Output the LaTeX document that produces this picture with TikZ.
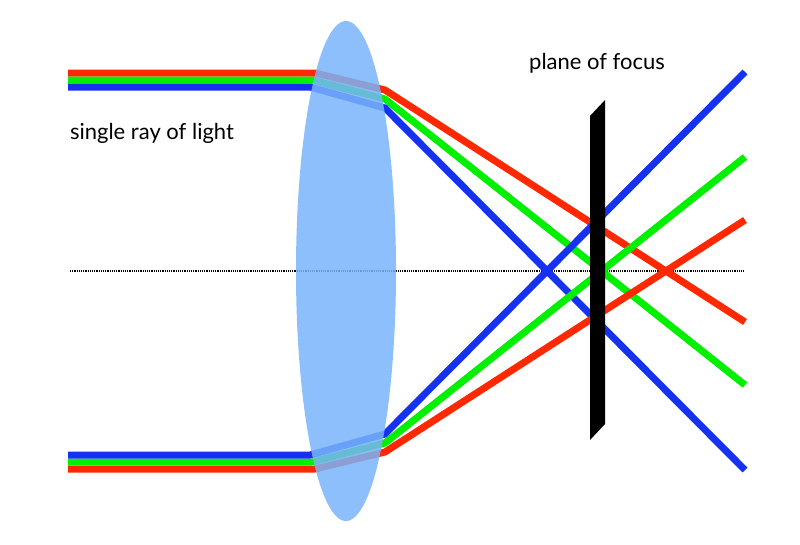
\documentclass[tikz,border=0pt]{standalone}
\usepackage{fontspec}
\setmainfont{Lato}
\usetikzlibrary{shapes.geometric}
\begin{document}
\begin{tikzpicture}[x=1pt,y=-1pt,
  ray/.style={line width=7pt},
  lbl/.style={font=\fontsize{22}{26}\selectfont,inner sep=0pt}]
\definecolor{rr}{RGB}{255,40,0}
\definecolor{gg}{RGB}{0,240,0}
\definecolor{bb}{RGB}{20,50,240}
\definecolor{lens}{RGB}{120,180,250}
\useasboundingbox (0,0) rectangle (800,544);
\draw[densely dotted,line width=1.2pt] (70,271) -- (745,271);
% top rays
\coordinate (rT1) at (68,73); \coordinate (rT2) at (315,73); \coordinate (rT3) at (385,90); \coordinate (rT4) at (745,322);
\coordinate (gT1) at (68,80); \coordinate (gT2) at (312,80); \coordinate (gT3) at (385,99); \coordinate (gT4) at (745,385);
\coordinate (bT1) at (68,87); \coordinate (bT2) at (310,87); \coordinate (bT3) at (385,108); \coordinate (bT4) at (745,470);
\draw[ray,rr] (rT1) -- (rT2) -- (rT3) -- (rT4);
\draw[ray,gg] (gT1) -- (gT2) -- (gT3) -- (gT4);
\draw[ray,bb] (bT1) -- (bT2) -- (bT3) -- (bT4);
% bottom rays
\coordinate (rB1) at (68,469); \coordinate (rB2) at (315,469); \coordinate (rB3) at (385,452); \coordinate (rB4) at (745,220);
\coordinate (gB1) at (68,462); \coordinate (gB2) at (312,462); \coordinate (gB3) at (385,443); \coordinate (gB4) at (745,157);
\coordinate (bB1) at (68,455); \coordinate (bB2) at (310,455); \coordinate (bB3) at (385,434); \coordinate (bB4) at (745,72);
\draw[ray,rr] (rB1) -- (rB2) -- (rB3) -- (rB4);
\draw[ray,gg] (gB1) -- (gB2) -- (gB3) -- (gB4);
\draw[ray,bb] (bB1) -- (bB2) -- (bB3) -- (bB4);
% lens
\node[ellipse,fill=lens,fill opacity=0.85,minimum width=100pt,minimum height=500pt,inner sep=0pt] (lensN) at (346,271) {};
% plane of focus
\fill (590,116) -- (605,100) -- (605,424) -- (590,440) -- cycle;
\node[lbl] (pf) at (597,63) {plane of focus};
\node[lbl] (sr) at (152,133) {single ray of light};
\end{tikzpicture}
\end{document}
